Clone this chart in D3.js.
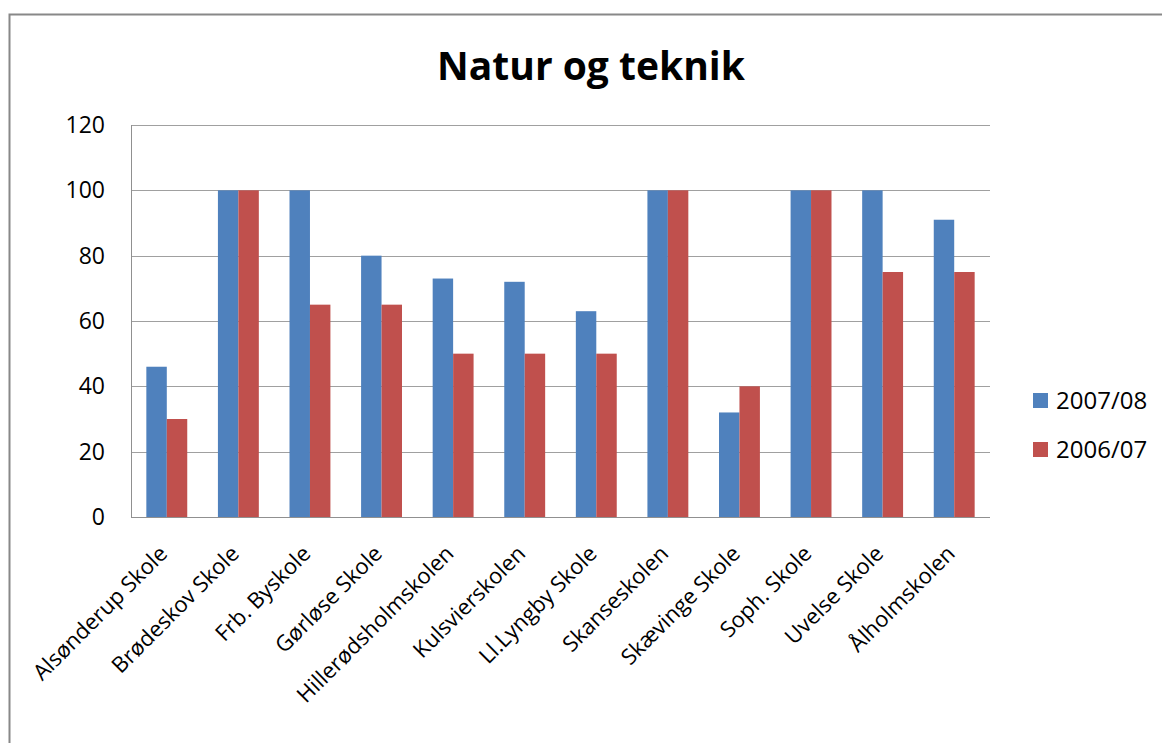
<!DOCTYPE html>
<html>
<head>
<meta charset="utf-8">
<script src="https://cdn.jsdelivr.net/npm/d3@7"></script>
<style>
  body { margin: 0; background: #fff; }
  text { font-family: "Open Sans", sans-serif; fill: #000; }
</style>
</head>
<body>
<svg id="chart"></svg>
<script>
// chart values
const schools = ["Alsønderup Skole", "Brødeskov Skole", "Frb. Byskole", "Gørløse Skole",
    "Hillerødsholmskolen", "Kulsvierskolen", "Ll.Lyngby Skole", "Skanseskolen",
    "Skævinge Skole", "Soph. Skole", "Uvelse Skole", "Ålholmskolen"];
const seriesNames = ["2007/08", "2006/07"];
const values0708 = [46, 100, 100, 80, 73, 72, 63, 100, 32, 100, 100, 91];
const values0607 = [30, 100, 65, 65, 50, 50, 50, 100, 40, 100, 75, 75];
const yTicks = [0, 20, 40, 60, 80, 100, 120];
const colors = ["#4F81BD", "#C0504D"];

const W = 1162, H = 743;
const margin = { top: 125, right: 172, bottom: 226, left: 131 },
    width = W - margin.left - margin.right,
    height = H - margin.top - margin.bottom;

const svg = d3.select("#chart")
    .attr("width", W)
    .attr("height", H);

// outer chart frame
svg.append("rect")
    .attr("x", 9.5).attr("y", 14.5)
    .attr("width", W + 20).attr("height", H + 20)
    .attr("fill", "none")
    .attr("stroke", "#888")
    .attr("stroke-width", 2);

const g = svg.append("g")
    .attr("transform", `translate(${margin.left},${margin.top})`);

const x = d3.scaleBand()
    .domain(schools)
    .range([0, width]);

// two bars with 150% gap width
const barW = x.bandwidth() / 3.5;
const x1 = d3.scaleBand()
    .domain(seriesNames)
    .range([x.bandwidth() / 2 - barW, x.bandwidth() / 2 + barW]);

const y = d3.scaleLinear()
    .domain([0, 120])
    .range([height, 0]);

// gridlines
g.append("g")
    .selectAll("line")
    .data(yTicks)
    .join("line")
    .attr("x1", 0)
    .attr("x2", width)
    .attr("y1", d => Math.round(y(d)) + 0.5)
    .attr("y2", d => Math.round(y(d)) + 0.5)
    .attr("stroke", "#a0a0a0");

// bars
const rows = schools.map((s, i) => ({ school: s, vals: [values0708[i], values0607[i]] }));
const groups = g.selectAll(".grp")
    .data(rows)
    .join("g")
    .attr("class", "grp")
    .attr("transform", d => `translate(${x(d.school)},0)`);

groups.selectAll("rect")
    .data(d => d.vals.map((v, k) => ({ key: seriesNames[k], v, k })))
    .join("rect")
    .attr("x", d => x1(d.key))
    .attr("width", x1.bandwidth())
    .attr("y", d => y(d.v))
    .attr("height", d => height - y(d.v))
    .attr("fill", d => colors[d.k]);

// axes lines
g.append("line")
    .attr("x1", 0.5).attr("x2", 0.5)
    .attr("y1", 0).attr("y2", height)
    .attr("stroke", "#909090");
g.append("line")
    .attr("x1", 0).attr("x2", width)
    .attr("y1", height + 0.5).attr("y2", height + 0.5)
    .attr("stroke", "#909090");

// y tick labels
g.append("g")
    .selectAll("text")
    .data(yTicks)
    .join("text")
    .attr("x", -26)
    .attr("y", d => y(d))
    .attr("dy", "0.35em")
    .attr("text-anchor", "end")
    .style("font-size", "23px")
    .text(d => d);

// x labels, rotated
g.append("g")
    .selectAll("text")
    .data(schools)
    .join("text")
    .attr("text-anchor", "end")
    .attr("transform", d => `translate(${x(d) + x.bandwidth() / 2 + 2},${height + 38}) rotate(-45)`)
    .style("font-size", "22px")
    .text(d => d);

// title
svg.append("text")
    .attr("x", 591)
    .attr("y", 80)
    .attr("text-anchor", "middle")
    .style("font-size", "39px")
    .style("font-weight", "bold")
    .text("Natur og teknik");

// legend
const legend = svg.append("g")
    .attr("transform", "translate(1033,393)");
const items = legend.selectAll("g")
    .data(seriesNames)
    .join("g")
    .attr("transform", (d, i) => `translate(0,${i * 49})`);
items.append("rect")
    .attr("width", 15).attr("height", 15)
    .attr("fill", (d, i) => colors[i]);
items.append("text")
    .attr("x", 23)
    .attr("y", 7.5)
    .attr("dy", "0.36em")
    .style("font-size", "24px")
    .text(d => d);
</script>
</body>
</html>
